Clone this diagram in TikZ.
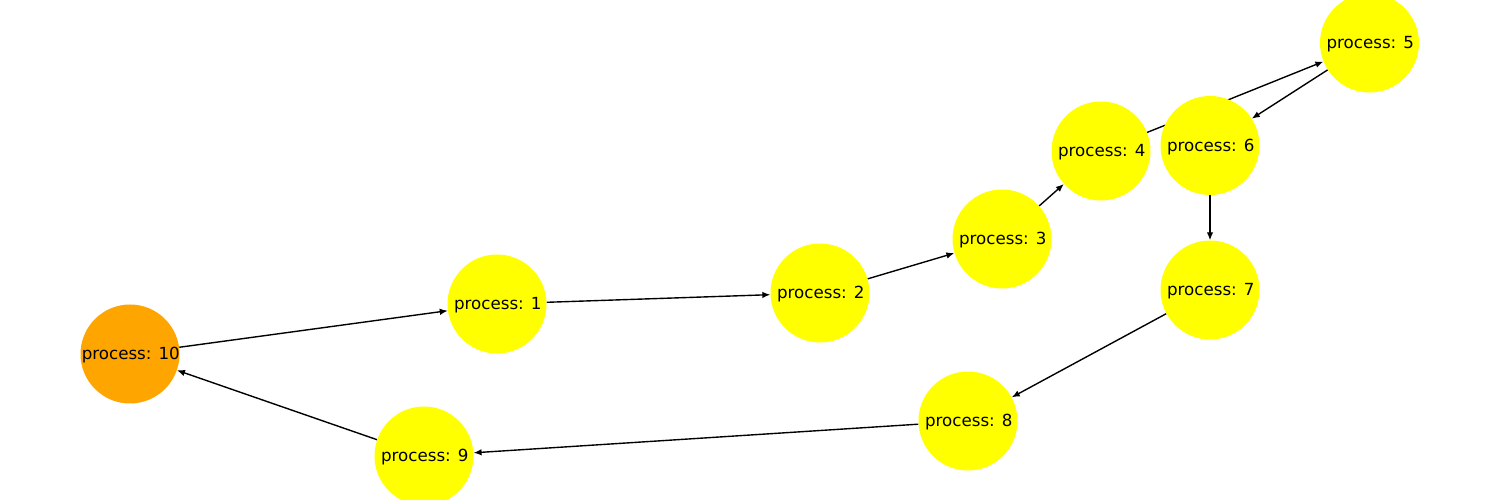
\documentclass[tikz,border=0pt]{standalone}
\usepackage{fontspec}
\setmainfont{DejaVu Sans}
\usetikzlibrary{arrows.meta,backgrounds}
\definecolor{nodeyellow}{HTML}{FFFF00}
\definecolor{nodeorange}{HTML}{FFA500}
\tikzset{
  proc/.style={circle, fill=nodeyellow, draw=none, minimum size=99pt, inner sep=0pt},
  procroot/.style={proc, fill=nodeorange},
  lbl/.style={font=\fontsize{16.67}{20}\selectfont, text=black, inner sep=0pt, yshift=-1.5pt, xshift=0.8pt},
  edge/.style={line width=1.39pt, draw=black, -{Latex[length=8pt,width=6.5pt]}},
}
\begin{document}
\begin{tikzpicture}[x=1pt,y=1pt]
\useasboundingbox (0,0) rectangle (1500,500);
\clip (0,0) rectangle (1500,500);
\node[procroot] (n10) at (130,146) {};
\node[proc] (n1) at (497,196) {};
\node[proc] (n2) at (820,207) {};
\node[proc] (n3) at (1002,261) {};
\node[proc] (n4) at (1101,349) {};
\node[proc] (n5) at (1369.5,457) {};
\node[proc] (n6) at (1210,354.5) {};
\node[proc] (n7) at (1210,210) {};
\node[proc] (n8) at (968,79) {};
\node[proc] (n9) at (424,44) {};
\node[lbl] at (n10) {process: 10};
\node[lbl] at (n1) {process: 1};
\node[lbl] at (n2) {process: 2};
\node[lbl] at (n3) {process: 3};
\node[lbl] at (n4) {process: 4};
\node[lbl] at (n5) {process: 5};
\node[lbl] at (n6) {process: 6};
\node[lbl] at (n7) {process: 7};
\node[lbl] at (n8) {process: 8};
\node[lbl] at (n9) {process: 9};
\begin{pgfonlayer}{background}
\draw[edge] (n10) -- (n1);
\draw[edge] (n1) -- (n2);
\draw[edge] (n2) -- (n3);
\draw[edge] (n3) -- (n4);
\draw[edge] (n4) -- (n5);
\draw[edge] (n5) -- (n6);
\draw[edge] (n6) -- (n7);
\draw[edge] (n7) -- (n8);
\draw[edge] (n8) -- (n9);
\draw[edge] (n9) -- (n10);
\end{pgfonlayer}
\end{tikzpicture}
\end{document}
